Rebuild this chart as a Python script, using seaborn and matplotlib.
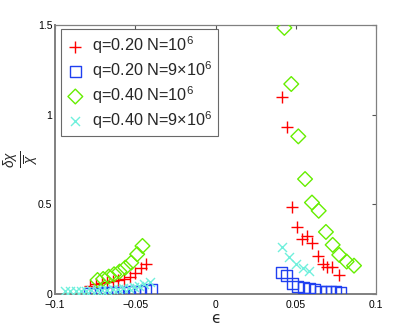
import matplotlib
matplotlib.use("Agg")
import matplotlib.pyplot as plt
import seaborn as sns
import numpy as np
import pandas as pd

# q=0.20 N=1e6 (red +)
eps_r = [-0.078, -0.0745, -0.071, -0.0675, -0.064, -0.0605, -0.057, -0.0535, -0.050, -0.0465, -0.043,
         0.0414, 0.0448, 0.0477, 0.0510, 0.0541, 0.0572, 0.0599, 0.0641, 0.0668, 0.0697, 0.0728, 0.0770]
val_r = [0.045, 0.055, 0.060, 0.065, 0.070, 0.078, 0.085, 0.095, 0.115, 0.145, 0.170,
         1.097, 0.931, 0.484, 0.371, 0.309, 0.324, 0.287, 0.212, 0.166, 0.153, 0.153, 0.106]

# q=0.20 N=9e6 (blue squares)
eps_b = [-0.0785, -0.075, -0.0715, -0.068, -0.0645, -0.061, -0.0575, -0.054, -0.0505, -0.047, -0.0435, -0.040,
         0.0412, 0.0443, 0.0479, 0.0512, 0.0547, 0.0585, 0.0620, 0.0655, 0.0688, 0.0720, 0.0751, 0.0780]
val_b = [0.005, 0.006, 0.007, 0.008, 0.009, 0.010, 0.011, 0.013, 0.015, 0.017, 0.020, 0.024,
         0.121, 0.102, 0.058, 0.041, 0.037, 0.032, 0.026, 0.018, 0.017, 0.015, 0.013, 0.011]

# q=0.40 N=1e6 (green diamonds)
eps_g = [-0.0735, -0.070, -0.0665, -0.0632, -0.0598, -0.0562, -0.0525, -0.0488, -0.0455,
         0.0429, 0.0472, 0.0516, 0.0558, 0.0601, 0.0643, 0.0688, 0.0730, 0.0771, 0.0817, 0.0863]
val_g = [0.078, 0.084, 0.097, 0.110, 0.125, 0.147, 0.175, 0.222, 0.268,
         1.484, 1.171, 0.879, 0.641, 0.510, 0.464, 0.346, 0.274, 0.218, 0.181, 0.158]

# q=0.40 N=9e6 (cyan x)
eps_c = [-0.0938, -0.0905, -0.0872, -0.0839, -0.0806, -0.0773, -0.0740, -0.0707, -0.0674, -0.0641,
         -0.0608, -0.0575, -0.0542, -0.0509, -0.0476, -0.0443, -0.0410,
         0.0416, 0.0460, 0.0502, 0.0543, 0.0585]
val_c = [0.017, 0.017, 0.018, 0.018, 0.019, 0.020, 0.021, 0.022, 0.024, 0.026,
         0.028, 0.031, 0.035, 0.040, 0.047, 0.056, 0.066,
         0.264, 0.208, 0.166, 0.147, 0.128]

labels = [r'q=0.20 N=10$^6$', r'q=0.20 N=9$\times$10$^6$',
          r'q=0.40 N=10$^6$', r'q=0.40 N=9$\times$10$^6$']

xticks = [-0.1, -0.05, 0, 0.05, 0.1]
xticklabels = ['\u22120.1', '\u22120.05', '0', '0.05', '0.1']
yticks = [0, 0.5, 1, 1.5]
yticklabels = ['0', '0.5', '1', '1.5']

sns.set_theme(style='white')
plt.rcParams['font.family'] = ['Liberation Sans', 'DejaVu Sans']
plt.rcParams['mathtext.fontset'] = 'custom'
plt.rcParams['mathtext.rm'] = 'Liberation Sans'
plt.rcParams['mathtext.it'] = 'Liberation Sans:italic'
plt.rcParams['mathtext.sf'] = 'Liberation Sans'

fig = plt.figure(figsize=(4.15, 3.31), dpi=100)
ax = fig.add_axes([55/415, 1 - 294/331, (376-55)/415, (294-25)/331])

series = [
    (eps_r, val_r, labels[0], '+', '#ff0000', 9, 'unfilled'),
    (eps_b, val_b, labels[1], 's', '#2040f0', 7.5, 'filled'),
    (eps_g, val_g, labels[2], 'D', '#66ee00', 7.5, 'filled'),
    (eps_c, val_c, labels[3], 'x', '#70f0dc', 6.5, 'unfilled'),
]
for e, v, lab, m, col, ms, kind in series:
    df = pd.DataFrame({'eps': e, 'val': v})
    if kind == 'unfilled':
        sns.scatterplot(data=df, x='eps', y='val', marker=m, color=col, s=ms**2,
                        linewidth=1.0, label=lab, ax=ax, zorder=3)
    else:
        sns.scatterplot(data=df, x='eps', y='val', marker=m, s=ms**2,
                        facecolor='none', edgecolor=col, linewidth=1.0, label=lab, ax=ax, zorder=3)

ax.set_xlim(-0.1, 0.1)
ax.set_ylim(0, 1.5)
ax.set_xticks(xticks)
ax.set_xticklabels(xticklabels)
ax.set_yticks(yticks)
ax.set_yticklabels(yticklabels)
ax.tick_params(direction='in', length=3, width=0.8, colors='#555555', labelcolor='black',
               labelsize=7.5, top=True, right=True, pad=2)
ax.tick_params(axis='x', pad=4)
for sp in ax.spines.values():
    sp.set_visible(True)
    sp.set_color('#808080')
    sp.set_linewidth(0.9)
ax.spines['left'].set_linewidth(1.4)
ax.spines['bottom'].set_linewidth(1.4)
ax.grid(False)

ax.set_xlabel('\u03f5', fontsize=11, labelpad=1, family=['DejaVu Sans'])
ax.set_ylabel(r'$\frac{\delta\chi}{\overline{\chi}}$', fontsize=14, rotation=90)
ax.yaxis.set_label_coords(-12/321, 0.5)

leg = ax.legend(loc='upper left', bbox_to_anchor=(5.7/321, 1 - 4.3/269), borderaxespad=0,
                fontsize=11.7, frameon=True, fancybox=False, handletextpad=0.45,
                handlelength=1.2, labelspacing=0.2, borderpad=0.3, markerscale=1.0)
leg.get_frame().set_edgecolor('#444444')
leg.get_frame().set_linewidth(0.8)

fig.savefig('out.png', dpi=100)
